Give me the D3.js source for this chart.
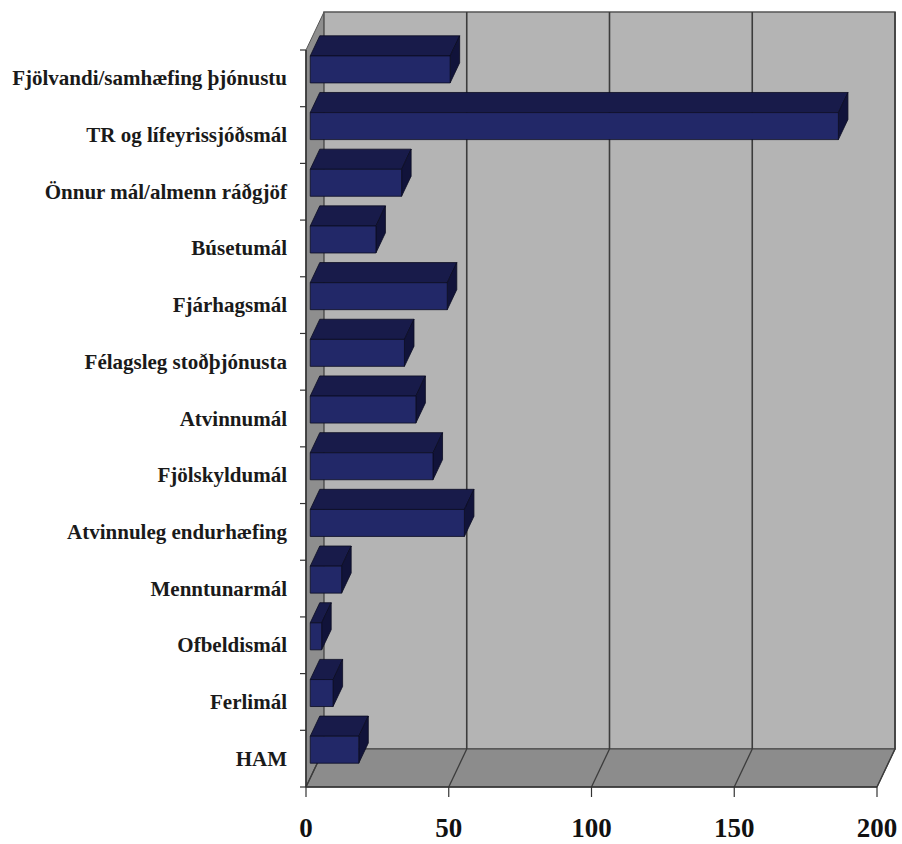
<!DOCTYPE html>
<html>
<head>
<meta charset="utf-8">
<script src="https://cdn.jsdelivr.net/npm/d3@7"></script>
<style>
  html, body { margin: 0; padding: 0; background: #fff; }
  svg { display: block; }
</style>
</head>
<body>
<svg id="chart" width="902" height="844"></svg>
<script>
// Categories listed top to bottom, with their case counts
const categories = [
  "Fjölvandi/samhæfing þjónustu",
  "TR og lífeyrissjóðsmál",
  "Önnur mál/almenn ráðgjöf",
  "Búsetumál",
  "Fjárhagsmál",
  "Félagsleg stoðþjónusta",
  "Atvinnumál",
  "Fjölskyldumál",
  "Atvinnuleg endurhæfing",
  "Menntunarmál",
  "Ofbeldismál",
  "Ferlimál",
  "HAM"
];
const values = [49, 185, 32, 23, 48, 33, 37, 43, 54, 11, 4, 8, 17];
const tickValues = [0, 50, 100, 150, 200];

(function draw() {
  const svg = d3.select("#chart");

  // Front plane of the 3D box
  const plotLeft = 306, plotRight = 877, plotTop = 50, plotBottom = 787;
  // Oblique depth offset of the full box (front -> back)
  const depthX = 18, depthY = -38;
  // Bars occupy the middle part of the depth
  const d0 = 0.235, d1 = 0.765;

  const x = d3.scaleLinear().domain([0, 200]).range([plotLeft, plotRight]);
  const gap = 0.524;
  const y = d3.scaleBand().domain(categories).range([plotTop, plotBottom])
    .paddingInner(gap).paddingOuter(gap / 2);

  // Project a (value-x, category-y, depth) point onto the page
  const P = (px, py, d) => [px + depthX * d, py + depthY * d];
  const poly = pts => "M" + pts.map(p => p.join(",")).join("L") + "Z";

  const x0 = x(0), x1 = x(200);

  // Left side wall
  svg.append("path")
    .attr("d", poly([P(x0, plotTop, 0), P(x0, plotTop, 1), P(x0, plotBottom, 1), P(x0, plotBottom, 0)]))
    .attr("fill", "#8e8e8e").attr("stroke", "#555").attr("stroke-width", 1);

  // Back wall
  svg.append("path")
    .attr("d", poly([P(x0, plotTop, 1), P(x1, plotTop, 1), P(x1, plotBottom, 1), P(x0, plotBottom, 1)]))
    .attr("fill", "#b4b4b4").attr("stroke", "#555").attr("stroke-width", 1.5);

  // Floor
  svg.append("path")
    .attr("d", poly([P(x0, plotBottom, 0), P(x0, plotBottom, 1), P(x1, plotBottom, 1), P(x1, plotBottom, 0)]))
    .attr("fill", "#8c8c8c").attr("stroke", "#444").attr("stroke-width", 1.2);

  // Gridlines: vertical on the back wall, diagonal across the floor
  const grid = svg.append("g").attr("stroke", "#3c3c3c").attr("fill", "none");
  tickValues.forEach(v => {
    const xv = x(v);
    if (v > 0) {
      grid.append("line")
        .attr("x1", P(xv, plotTop, 1)[0]).attr("y1", P(xv, plotTop, 1)[1])
        .attr("x2", P(xv, plotBottom, 1)[0]).attr("y2", P(xv, plotBottom, 1)[1])
        .attr("stroke-width", 1.6);
    }
    grid.append("line")
      .attr("x1", P(xv, plotBottom, 0)[0]).attr("y1", P(xv, plotBottom, 0)[1])
      .attr("x2", P(xv, plotBottom, 1)[0]).attr("y2", P(xv, plotBottom, 1)[1])
      .attr("stroke-width", 1.3);
  });

  // Front edges of the box (axes)
  svg.append("line").attr("x1", x0).attr("y1", plotTop).attr("x2", x0).attr("y2", plotBottom)
    .attr("stroke", "#333").attr("stroke-width", 1.6);
  svg.append("line").attr("x1", x0).attr("y1", plotBottom).attr("x2", x1).attr("y2", plotBottom)
    .attr("stroke", "#333").attr("stroke-width", 1.6);

  // Category tick marks on the left axis (band boundaries)
  const step = y.step();
  const catTicks = d3.range(categories.length + 1).map(i => plotTop + i * step);
  svg.append("g").selectAll("line").data(catTicks).join("line")
    .attr("x1", x0 - 6).attr("x2", x0).attr("y1", d => d).attr("y2", d => d)
    .attr("stroke", "#333").attr("stroke-width", 1.2);

  // Value tick marks under the floor
  svg.append("g").selectAll("line").data(tickValues).join("line")
    .attr("x1", d => x(d)).attr("x2", d => x(d)).attr("y1", plotBottom).attr("y2", plotBottom + 10)
    .attr("stroke", "#333").attr("stroke-width", 1.2);

  // 3D bars
  const bars = svg.append("g");
  categories.forEach((c, i) => {
    const v = values[i];
    const ya = y(c), yb = y(c) + y.bandwidth();
    const xa = x(0), xb = x(v);
    const g = bars.append("g").attr("stroke", "#0b0c22").attr("stroke-width", 0.8)
      .attr("stroke-linejoin", "round");
    // top face
    g.append("path")
      .attr("d", poly([P(xa, ya, d0), P(xa, ya, d1), P(xb, ya, d1), P(xb, ya, d0)]))
      .attr("fill", "#181b4a");
    // end face
    g.append("path")
      .attr("d", poly([P(xb, ya, d0), P(xb, ya, d1), P(xb, yb, d1), P(xb, yb, d0)]))
      .attr("fill", "#11133a");
    // front face
    g.append("path")
      .attr("d", poly([P(xa, ya, d0), P(xb, ya, d0), P(xb, yb, d0), P(xa, yb, d0)]))
      .attr("fill", "#222868");
  });

  // Category labels
  svg.append("g").selectAll("text").data(categories).join("text")
    .attr("x", 287)
    .attr("y", d => y(d) + y.bandwidth() / 2 + 7)
    .attr("text-anchor", "end")
    .attr("font-family", "'Liberation Serif', 'Times New Roman', serif")
    .attr("font-weight", "bold")
    .attr("font-size", 21)
    .attr("fill", "#1a1a1a")
    .text(d => d);

  // Value axis labels
  svg.append("g").selectAll("text").data(tickValues).join("text")
    .attr("x", d => x(d))
    .attr("y", 837)
    .attr("text-anchor", "middle")
    .attr("font-family", "'Liberation Serif', 'Times New Roman', serif")
    .attr("font-weight", "bold")
    .attr("font-size", 27)
    .attr("fill", "#111")
    .text(d => d);
})();
</script>
</body>
</html>
